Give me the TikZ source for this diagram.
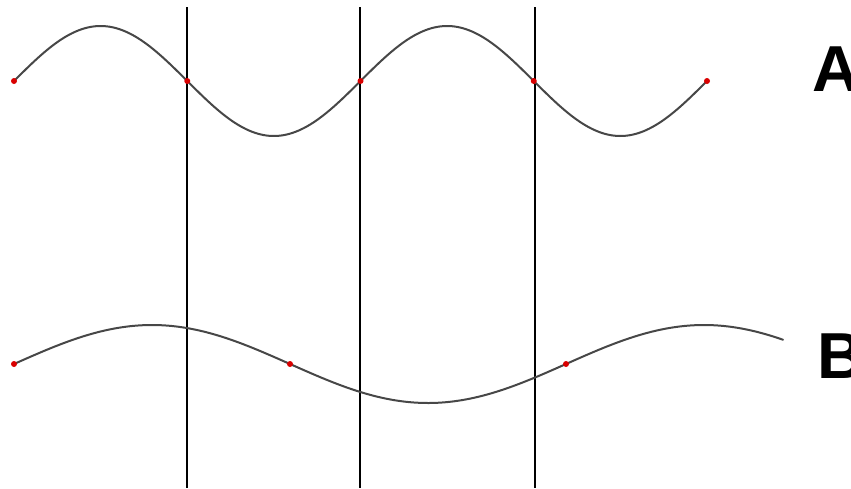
\documentclass[tikz,border=0pt]{standalone}
\usepackage{fontspec}
\setmainfont{Liberation Sans}
\tikzset{
  wave/.style={draw=black!72, line width=2pt, line cap=round},
  divider/.style={draw=black, line width=2.6pt},
  dot/.style={circle, fill=red!85!black, inner sep=0pt, minimum size=6pt},
  lbl/.style={anchor=base west, inner sep=0pt, font=\fontsize{65}{65}\selectfont\bfseries}
}
\begin{document}
\begin{tikzpicture}[x=1pt,y=-1pt]
\useasboundingbox (0,0) rectangle (851,488);
\clip (0,0) rectangle (851,488);
% dividers
\foreach \n/\xx in {1/187,2/360,3/535}{
  \coordinate (t\n) at (\xx,7);
  \coordinate (b\n) at (\xx,488);
  \draw[divider] (t\n) -- (b\n);
}
% wave A
\draw[wave] plot[domain=14:707, samples=240, smooth] (\x, {81 - 55*sin((\x-14)/346.5*360)});
\foreach \n/\xx in {1/14,2/187.25,3/360.5,4/533.75,5/707}{
  \node[dot] (a\n) at (\xx,81) {};
}
% wave B
\draw[wave] plot[domain=14:783, samples=240, smooth] (\x, {364 - 39*sin((\x-14)/552*360)});
\foreach \n/\xx in {1/14,2/290,3/566}{
  \node[dot] (bd\n) at (\xx,364) {};
}
% labels
\node[lbl] (labA) at (812,91) {A};
\node[lbl] (labB) at (817,378) {B};
\end{tikzpicture}
\end{document}
